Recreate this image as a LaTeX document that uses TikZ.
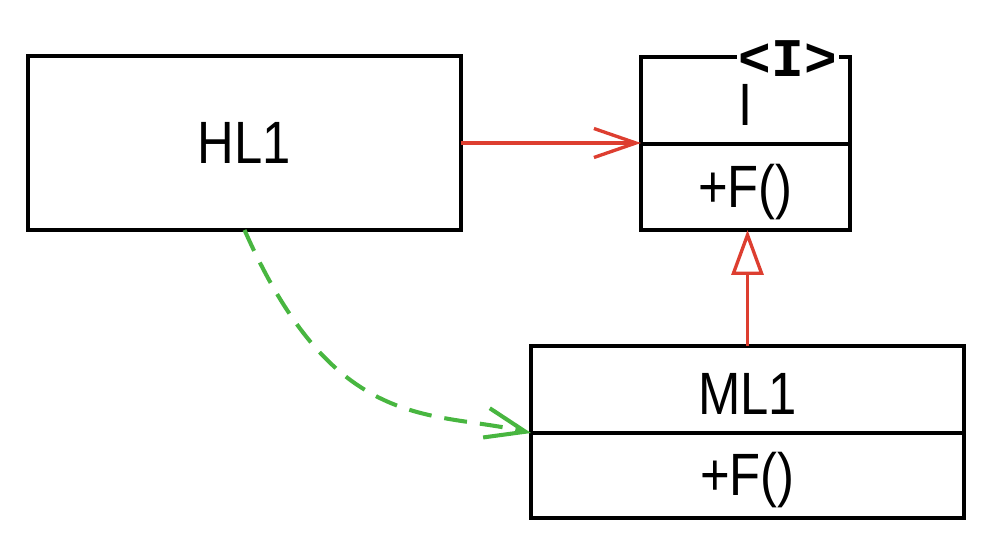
\documentclass[tikz,border=0pt]{standalone}
\usepackage{fontspec}
\setmainfont{Liberation Sans}[FakeStretch=0.85]
\setmonofont{Liberation Mono}
\usetikzlibrary{arrows.meta}
\usetikzlibrary{positioning}
\definecolor{umlred}{RGB}{221,62,48}
\definecolor{umlgreen}{RGB}{72,182,64}

\begin{document}
\begin{tikzpicture}[x=0.02cm, y=-0.02cm,
  box/.style={draw=black, line width=2.2pt, rectangle, inner sep=0pt, outer sep=0pt,
    text height=0.82cm, text depth=0pt, font=\fontsize{34pt}{38pt}\selectfont},
  lowtext/.style={text height=1.0cm},
  uses/.style={umlred, line width=1.9pt, -{Straight Barb[length=0.84cm, width=0.58cm]}},
  inherits/.style={umlred, line width=1.9pt, -{Triangle[fill=white, length=0.9cm, width=0.64cm]}},
  depends/.style={umlgreen, line width=2.3pt, dash pattern=on 0.46cm off 0.26cm,
    -{Straight Barb[length=0.8cm, width=0.6cm]}}]
\useasboundingbox (0,0) rectangle (997,544);
% classes
\node[box, minimum width=8.66cm, minimum height=3.48cm] (HL1) at (244.5,143) {HL1};
\node[box, lowtext, minimum width=4.18cm, minimum height=1.74cm] (Itop) at (745.5,100.5) {I};
\node[box, minimum width=4.18cm, minimum height=1.72cm, below=0pt of Itop] (Ibot) {+F()};
\node[fill=white, inner sep=1pt, font=\ttfamily\bfseries\fontsize{31pt}{34pt}\selectfont] (Itag) at (788,59) {<I>};
\node[box, lowtext, minimum width=8.66cm, minimum height=1.74cm] (MLtop) at (747.5,389.5) {ML1};
\node[box, minimum width=8.66cm, minimum height=1.70cm, below=0pt of MLtop] (MLbot) {+F()};
% relations
\draw[uses] (HL1.east) -- (HL1.east -| Itop.west);
\draw[inherits] (MLtop.north) -- (MLtop.north |- Ibot.south);
\draw[depends] (HL1.south) .. controls (335,435) and (430,410) .. (MLtop.south west);
\end{tikzpicture}
\end{document}
